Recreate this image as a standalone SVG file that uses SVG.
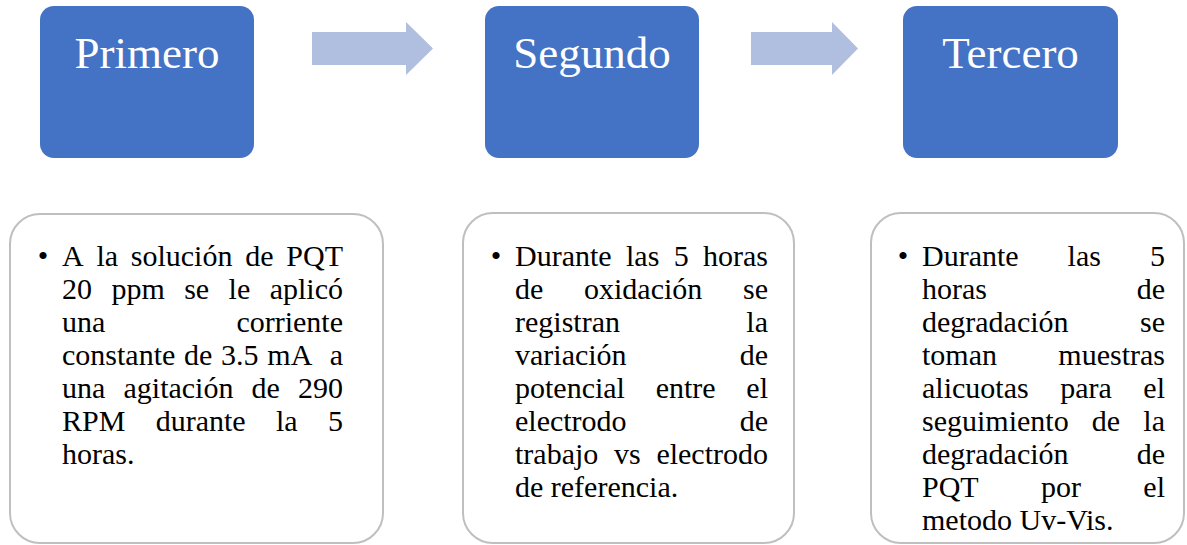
<svg xmlns="http://www.w3.org/2000/svg" width="1187" height="545" viewBox="0 0 1187 545">
<style>
.step{fill:#4472C4;}
.head{font-family:"Liberation Serif","Times New Roman",serif;font-size:45px;fill:#FFFFFF;text-anchor:middle;}
.card{fill:#FFFFFF;stroke:#BFBFBF;stroke-width:2;}
.body{font-family:"Liberation Serif","Times New Roman",serif;font-size:30px;fill:#000000;}
.end{text-anchor:end;}
.bul{text-anchor:middle;}
.arrow{fill:#B0BEE0;}
</style>
<rect width="1187" height="545" fill="#FFFFFF"/>
<g id="step1">
<rect class="step" x="40" y="6" width="214" height="152" rx="14"/>
<text class="head" x="147" y="68">Primero</text>
</g>
<g id="step2">
<rect class="step" x="485" y="6" width="214" height="152" rx="14"/>
<text class="head" x="592" y="68">Segundo</text>
</g>
<g id="step3">
<rect class="step" x="903" y="6" width="215" height="152" rx="14"/>
<text class="head" x="1010.5" y="68">Tercero</text>
</g>
<g id="connectors">
<path class="arrow" d="M312,32 H406 V22 L433,48.5 L406,75 V65 H312 Z"/>
<path class="arrow" d="M751,32 H832 V22 L858,48.5 L832,75 V65 H751 Z"/>
</g>
<g id="detail1">
<rect class="card" x="10" y="214" width="373" height="329" rx="30"/>
<text class="body bul" x="43" y="266">•</text>
<text class="body" y="266"><tspan x="62">A</tspan><tspan x="96.4">la</tspan><tspan x="130.8">solución</tspan><tspan x="245.2">de</tspan></text>
<text class="body end" x="343" y="266">PQT</text>
<text class="body" y="299"><tspan x="62">20</tspan><tspan x="111.4">ppm</tspan><tspan x="184.2">se</tspan><tspan x="228.6">le</tspan></text>
<text class="body end" x="343" y="299">aplicó</text>
<text class="body" x="62" y="332">una</text>
<text class="body end" x="343" y="332">corriente</text>
<text class="body" y="365"><tspan x="62">constante</tspan><tspan x="184">de</tspan><tspan x="221">3.5</tspan><tspan x="267.3">mA</tspan></text>
<text class="body end" x="343" y="365">a</text>
<text class="body" y="398"><tspan x="62">una</tspan><tspan x="123.5">agitación</tspan><tspan x="251.6">de</tspan></text>
<text class="body end" x="343" y="398">290</text>
<text class="body" y="431"><tspan x="62">RPM</tspan><tspan x="155.7">durante</tspan><tspan x="276">la</tspan></text>
<text class="body end" x="343" y="431">5</text>
<text class="body" x="62" y="464">horas.</text>
</g>
<g id="detail2">
<rect class="card" x="463" y="213" width="331" height="330" rx="30"/>
<text class="body bul" x="496" y="266">•</text>
<text class="body" y="266"><tspan x="515">Durante</tspan><tspan x="626">las</tspan><tspan x="673.7">5</tspan></text>
<text class="body end" x="768" y="266">horas</text>
<text class="body" y="299"><tspan x="515">de</tspan><tspan x="584">oxidación</tspan></text>
<text class="body end" x="768" y="299">se</text>
<text class="body" x="515" y="332">registran</text>
<text class="body end" x="768" y="332">la</text>
<text class="body" x="515" y="365">variación</text>
<text class="body end" x="768" y="365">de</text>
<text class="body" y="398"><tspan x="515">potencial</tspan><tspan x="655.7">entre</tspan></text>
<text class="body end" x="768" y="398">el</text>
<text class="body" x="515" y="431">electrodo</text>
<text class="body end" x="768" y="431">de</text>
<text class="body" y="464"><tspan x="515">trabajo</tspan><tspan x="614">vs</tspan></text>
<text class="body end" x="768" y="464">electrodo</text>
<text class="body" x="515" y="497">de referencia.</text>
</g>
<g id="detail3">
<rect class="card" x="871" y="213" width="313" height="330" rx="30"/>
<text class="body bul" x="903" y="266">•</text>
<text class="body" y="266"><tspan x="922">Durante</tspan><tspan x="1067.6">las</tspan></text>
<text class="body end" x="1165" y="266">5</text>
<text class="body" x="922" y="299">horas</text>
<text class="body end" x="1165" y="299">de</text>
<text class="body" x="922" y="332">degradación</text>
<text class="body end" x="1165" y="332">se</text>
<text class="body" x="922" y="365">toman</text>
<text class="body end" x="1165" y="365">muestras</text>
<text class="body" y="398"><tspan x="922">alicuotas</tspan><tspan x="1060.2">para</tspan></text>
<text class="body end" x="1165" y="398">el</text>
<text class="body" y="431"><tspan x="922">seguimiento</tspan><tspan x="1091.8">de</tspan></text>
<text class="body end" x="1165" y="431">la</text>
<text class="body" x="922" y="464">degradación</text>
<text class="body end" x="1165" y="464">de</text>
<text class="body" y="497"><tspan x="922">PQT</tspan><tspan x="1041">por</tspan></text>
<text class="body end" x="1165" y="497">el</text>
<text class="body" x="922" y="530">metodo Uv-Vis.</text>
</g>
</svg>
